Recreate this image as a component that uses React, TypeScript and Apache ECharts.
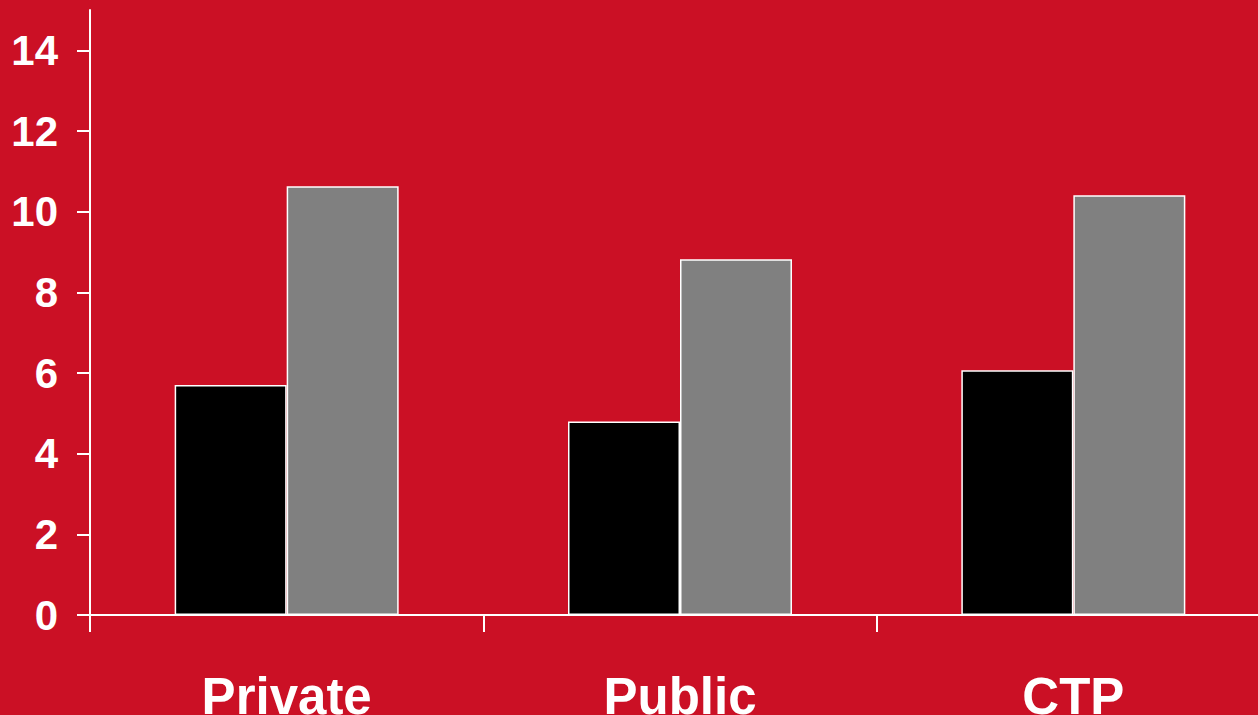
import React, { useEffect, useRef } from "react";
import * as echarts from "echarts";

const categories = ["Private", "Public", "CTP"];
const seriesA = [5.7, 4.8, 6.07];
const seriesB = [10.63, 8.82, 10.41];
const yTicks = [0, 2, 4, 6, 8, 10, 12, 14];

export default function App() {
  const ref = useRef<HTMLDivElement>(null);
  useEffect(() => {
    const chart = echarts.init(ref.current!, null, { renderer: "svg" });
    chart.setOption({
      animation: false,
      backgroundColor: "#CB1025",
      grid: {
        left: 90,
        right: -12,
        top: 10,
        bottom: 100,
        containLabel: false,
        outerBoundsMode: "none",
      },
      xAxis: {
        type: "category",
        data: categories,
        axisLine: { lineStyle: { color: "#fff", width: 2 } },
        axisTick: { show: true, length: 17, lineStyle: { color: "#fff", width: 2 } },
        axisLabel: {
          color: "#fff",
          fontSize: 51,
          lineHeight: 40,
          fontWeight: "bold",
          fontFamily: "Liberation Sans, Arial, sans-serif",
          margin: 61,
        },
      },
      yAxis: {
        type: "value",
        min: 0,
        max: 15,
        interval: 1,
        splitLine: { show: false },
        axisLine: { show: true, lineStyle: { color: "#fff", width: 2 } },
        axisTick: { show: true, length: 13, customValues: yTicks, lineStyle: { color: "#fff", width: 2 } },
        axisLabel: {
          color: "#fff",
          fontSize: 42,
          fontWeight: "bold",
          fontFamily: "Liberation Sans, Arial, sans-serif",
          margin: 32,
          customValues: yTicks,
        },
      },
      series: [
        {
          type: "bar",
          data: seriesA,
          barWidth: 112,
          barGap: "0%",
          itemStyle: { color: "#000", borderColor: "#fff", borderWidth: 1.5 },
        },
        {
          type: "bar",
          data: seriesB,
          barWidth: 112,
          barGap: "0%",
          itemStyle: { color: "#808080", borderColor: "#fff", borderWidth: 1.5 },
        },
      ],
    });
    return () => chart.dispose();
  }, []);
  return (
    <div
      ref={ref}
      style={{ position: "fixed", left: 0, top: 0, width: 1258, height: 715 }}
    />
  );
}
